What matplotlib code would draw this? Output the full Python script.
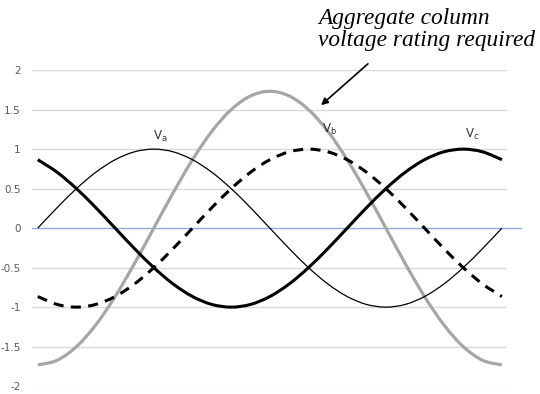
import matplotlib
matplotlib.use("Agg")
from matplotlib import pyplot as plt
from matplotlib.path import Path
from matplotlib.patches import PathPatch, FancyArrowPatch

# phase angle in degrees, 15 degree steps
angle = [0, 15, 30, 45, 60, 75, 90, 105, 120, 135, 150, 165, 180,
         195, 210, 225, 240, 255, 270, 285, 300, 315, 330, 345, 360]

va = [0, 0.259, 0.5, 0.707, 0.866, 0.966, 1, 0.966, 0.866, 0.707, 0.5, 0.259, 0,
      -0.259, -0.5, -0.707, -0.866, -0.966, -1, -0.966, -0.866, -0.707, -0.5, -0.259, 0]
vb = [-0.866, -0.966, -1, -0.966, -0.866, -0.707, -0.5, -0.259, 0, 0.259, 0.5, 0.707, 0.866,
      0.966, 1, 0.966, 0.866, 0.707, 0.5, 0.259, 0, -0.259, -0.5, -0.707, -0.866]
vc = [0.866, 0.707, 0.5, 0.259, 0, -0.259, -0.5, -0.707, -0.866, -0.966, -1, -0.966, -0.866,
      -0.707, -0.5, -0.259, 0, 0.259, 0.5, 0.707, 0.866, 0.966, 1, 0.966, 0.866]
aggregate = [-1.732, -1.673, -1.5, -1.225, -0.866, -0.448, 0, 0.448, 0.866, 1.225, 1.5, 1.673, 1.732,
             1.673, 1.5, 1.225, 0.866, 0.448, 0, -0.448, -0.866, -1.225, -1.5, -1.673, -1.732]

yticks = [-2, -1.5, -1, -0.5, 0, 0.5, 1, 1.5, 2]
ytick_labels = ['-2', '-1.5', '-1', '-0.5', '0', '0.5', '1', '1.5', '2']


def smooth_line(ax, xs, ys, **kw):
    # excel style smoothed line: bezier segments through the points
    n = len(xs)
    verts = [(xs[0], ys[0])]
    codes = [Path.MOVETO]
    for i in range(n - 1):
        i0 = max(i - 1, 0)
        i3 = min(i + 2, n - 1)
        c1 = (xs[i] + (xs[i + 1] - xs[i0]) / 6, ys[i] + (ys[i + 1] - ys[i0]) / 6)
        c2 = (xs[i + 1] - (xs[i3] - xs[i]) / 6, ys[i + 1] - (ys[i3] - ys[i]) / 6)
        verts += [c1, c2, (xs[i + 1], ys[i + 1])]
        codes += [Path.CURVE4] * 3
    ax.add_patch(PathPatch(Path(verts, codes), fill=False, capstyle='butt', **kw))


fig = plt.figure(figsize=(5.4, 3.94), dpi=100)
ax = fig.add_axes([0.059, 0.02, 0.88, 0.802])

for y in yticks:
    if y != 0:
        ax.axhline(y, color='#d9d9d9', lw=1, zorder=0)
ax.axhline(0, xmin=0, xmax=1.03, color='#8faadc', lw=1, zorder=1, clip_on=False)

smooth_line(ax, angle, aggregate, edgecolor='#a6a6a6', lw=2.3, zorder=2)
smooth_line(ax, angle, va, edgecolor='black', lw=0.9, zorder=3)
smooth_line(ax, angle, vb, edgecolor='black', lw=2.2, linestyle=(0, (3.3, 2.4)), zorder=3)
smooth_line(ax, angle, vc, edgecolor='black', lw=2.2, zorder=3)

ax.text(95, 1.06, r'$\mathregular{V_a}$', fontsize=8.5, ha='center', va='bottom', color='#333333')
ax.text(226, 1.15, r'$\mathregular{V_b}$', fontsize=8.5, ha='center', va='bottom', color='#333333')
ax.text(337, 1.09, r'$\mathregular{V_c}$', fontsize=8.5, ha='center', va='bottom', color='#333333')

ax.set_xlim(-4.6, 364)
ax.set_ylim(-2, 2)
ax.set_yticks(yticks)
ax.set_yticklabels(ytick_labels)
ax.set_xticks([])
ax.tick_params(axis='y', length=0, pad=8, labelsize=7.5, labelcolor='#595959')
for s in ax.spines.values():
    s.set_visible(False)

fig.text(0.589, 0.98, 'Aggregate column\nvoltage rating required', family='Liberation Serif',
         style='italic', fontsize=16.8, ha='left', va='top', linespacing=1.05)
fig.patches.append(FancyArrowPatch(
    (370 / 540, 1 - 62 / 394), (319 / 540, 1 - 107 / 394), transform=fig.transFigure,
    arrowstyle='-|>', mutation_scale=10, color='black', lw=1.2))

fig.savefig('out.png', dpi=100)
